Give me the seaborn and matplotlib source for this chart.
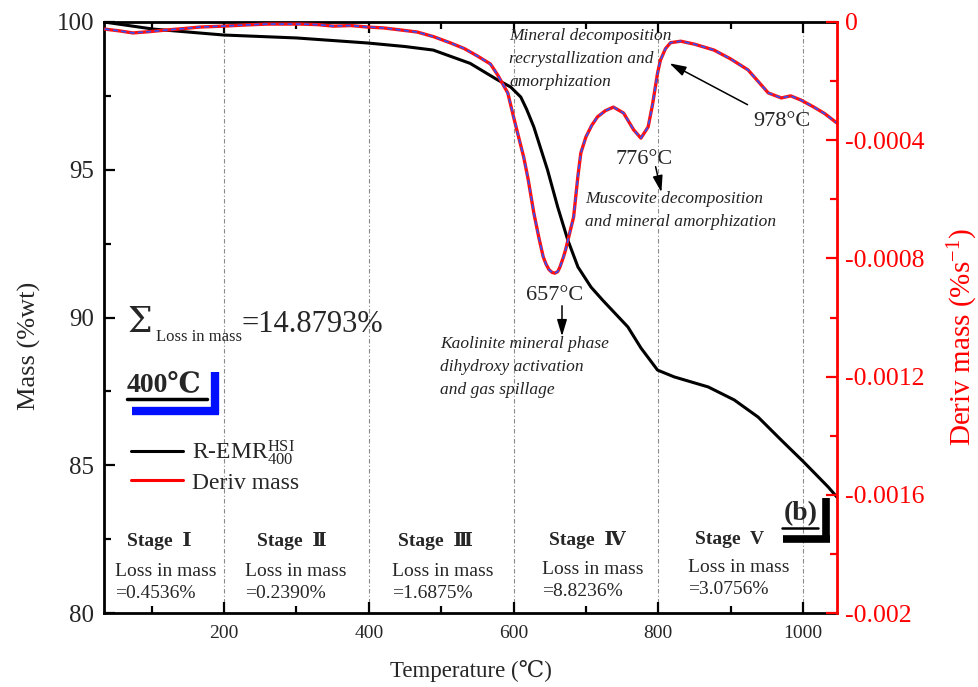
import matplotlib
matplotlib.use("Agg")
import matplotlib.pyplot as plt
import seaborn as sns
import pandas as pd
from matplotlib.lines import Line2D
from matplotlib.ticker import MultipleLocator, FixedLocator, FixedFormatter

# ---------------- data ----------------
tg_temp = [34, 102, 199, 300, 398, 450, 489, 540, 578, 596, 610, 618, 628, 647, 661,
           675, 689, 707, 723, 758, 776, 799, 822, 869, 905, 938, 970, 1001, 1035, 1047]
tg_mass = [100.0, 99.76, 99.56, 99.46, 99.29, 99.17, 99.05, 98.60, 98.04, 97.80,
           97.46, 97.05, 96.45, 94.99, 93.74, 92.62, 91.71, 91.03, 90.59, 89.68,
           88.97, 88.22, 87.99, 87.65, 87.21, 86.63, 85.85, 85.11, 84.26, 83.92]

dtg_temp = [35, 55, 74, 95, 121, 145, 167, 199, 230, 260, 305, 330, 351, 375, 398,
            420, 444, 467, 490, 513, 532, 550, 568, 578, 592, 600, 605, 614, 620,
            628, 635, 641, 645, 649, 653, 657, 661, 664, 669, 672, 676, 683, 686,
            689, 693, 700, 708, 716, 727, 738, 752, 766, 776, 786, 792, 799, 803,
            810, 817, 831, 850, 877, 900, 924, 952, 970, 983, 997, 1015, 1030, 1047]
dtg_vals = [-0.24e-4, -0.30e-4, -0.37e-4, -0.33e-4, -0.27e-4, -0.22e-4, -0.17e-4,
            -0.14e-4, -0.10e-4, -0.07e-4, -0.07e-4, -0.09e-4, -0.14e-4, -0.12e-4,
            -0.17e-4, -0.20e-4, -0.27e-4, -0.34e-4, -0.50e-4, -0.71e-4, -0.90e-4,
            -1.15e-4, -1.42e-4, -1.79e-4, -2.40e-4, -3.21e-4, -3.70e-4, -4.57e-4,
            -5.30e-4, -6.46e-4, -7.30e-4, -7.95e-4, -8.20e-4, -8.38e-4, -8.47e-4,
            -8.50e-4, -8.45e-4, -8.30e-4, -7.95e-4, -7.70e-4, -7.30e-4, -6.60e-4,
            -5.90e-4, -5.20e-4, -4.43e-4, -3.89e-4, -3.50e-4, -3.21e-4, -3.00e-4,
            -2.88e-4, -3.08e-4, -3.65e-4, -3.93e-4, -3.55e-4, -2.80e-4, -1.73e-4,
            -1.29e-4, -0.90e-4, -0.70e-4, -0.65e-4, -0.75e-4, -0.95e-4, -1.25e-4,
            -1.62e-4, -2.40e-4, -2.57e-4, -2.50e-4, -2.64e-4, -2.88e-4, -3.10e-4,
            -3.42e-4]

x_major = [200, 400, 600, 800, 1000]
y_left_ticks = [80, 85, 90, 95, 100]
y_right_ticks = [0, -0.0004, -0.0008, -0.0012, -0.0016, -0.002]
y_right_labels = ["0", "-0.0004", "-0.0008", "-0.0012", "-0.0016", "-0.002"]

stage_names = ["Stage  Ⅰ", "Stage  Ⅱ", "Stage  Ⅲ", "Stage  Ⅳ", "Stage  V"]
stage_losses = ["=0.4536%", "=0.2390%", "=1.6875%", "=8.8236%", "=3.0756%"]
peak_labels = ["657°C", "776°C", "978°C"]
total_loss = "=14.8793%"

tg_df = pd.DataFrame({"Temperature": tg_temp, "Mass": tg_mass})
dtg_df = pd.DataFrame({"Temperature": dtg_temp, "Deriv": dtg_vals})

# ---------------- style ----------------
sns.set_style("ticks")
plt.rcParams["font.family"] = ["Liberation Serif", "DejaVu Serif", "Noto Sans CJK SC",
                               "DejaVu Sans"]
plt.rcParams["mathtext.fontset"] = "custom"
plt.rcParams["mathtext.rm"] = "Liberation Serif"
plt.rcParams["mathtext.it"] = "Liberation Serif:italic"
plt.rcParams["mathtext.bf"] = "Liberation Serif:bold"
plt.rcParams["mathtext.default"] = "regular"
plt.rcParams["axes.unicode_minus"] = False

W, H = 979, 687
fig = plt.figure(figsize=(W / 100, H / 100), dpi=100)
L, R, T, B = 104, 837, 22, 613
ax1 = fig.add_axes([L / W, 1 - B / H, (R - L) / W, (B - T) / H])
ax2 = ax1.twinx()


def fp(x, y):
    return (x / W, 1 - y / H)


# curves
sns.lineplot(data=tg_df, x="Temperature", y="Mass", ax=ax1, color="black", lw=2.2)
sns.lineplot(data=dtg_df, x="Temperature", y="Deriv", ax=ax2, color="#ff1010", lw=2.4)
sns.lineplot(data=dtg_df, x="Temperature", y="Deriv", ax=ax2, color="#3050ff",
             lw=1.2, linestyle=(0, (3, 2)))

# axes limits / ticks
ax1.set_xlim(34, 1047)
ax1.set_ylim(80, 100)
ax2.set_ylim(-0.002, 0)

ax1.xaxis.set_major_locator(FixedLocator(x_major))
ax1.xaxis.set_minor_locator(MultipleLocator(100))
ax1.yaxis.set_major_locator(FixedLocator(y_left_ticks))
ax1.yaxis.set_minor_locator(MultipleLocator(2.5))
ax1.tick_params(axis="both", which="both", direction="in", top=True, right=False,
                width=1.6, color="black")
ax1.tick_params(which="major", length=8)
ax1.tick_params(which="minor", length=5)
ax1.tick_params(axis="x", labelsize=14, pad=9)
ax1.tick_params(axis="y", labelsize=18, pad=7)

ax2.yaxis.set_major_locator(FixedLocator(y_right_ticks))
ax2.yaxis.set_major_formatter(FixedFormatter(y_right_labels))
ax2.yaxis.set_minor_locator(MultipleLocator(0.0002))
ax2.tick_params(axis="y", which="both", direction="in", colors="red", width=1.6,
                labelsize=18.5, pad=6)
ax2.tick_params(axis="y", which="major", length=8)
ax2.tick_params(axis="y", which="minor", length=5)

for s in ["left", "bottom", "top"]:
    ax1.spines[s].set_linewidth(2)
    ax1.spines[s].set_color("black")
ax1.spines["right"].set_visible(False)
for s in ["left", "bottom", "top"]:
    ax2.spines[s].set_visible(False)
ax2.spines["right"].set_color("red")
ax2.spines["right"].set_linewidth(2)

ax1.grid(axis="x", which="major", color="#8a8a8a", lw=0.8, linestyle=(0, (4, 2, 1, 2)))
ax1.set_axisbelow(True)

ax1.set_xlabel("Temperature (℃)", fontsize=16.5)
ax1.xaxis.set_label_coords(0.5, (613 - 660) / 591)
ax1.set_ylabel("Mass (%wt)", fontsize=19)
ax1.yaxis.set_label_coords((41 - 104) / 733, (613 - 346) / 591)
ax2.set_ylabel("Deriv mass (%s$^{-1}$)", fontsize=21, color="red")
ax2.yaxis.set_label_coords((946 - 104) / 733, (613 - 337) / 591)

# legend
handles = [Line2D([0], [0], color="black", lw=2.2), Line2D([0], [0], color="red", lw=2.2)]
ax1.legend(handles, ["R-EMR$_{400}^{HSI}$", "Deriv mass"], loc="upper left",
           bbox_to_anchor=fp(122, 429), bbox_transform=fig.transFigure,
           frameon=False, fontsize=17, handlelength=2.2, handletextpad=0.35,
           labelspacing=0.2, borderaxespad=0)

# sum of loss
fig.text(*fp(128, 322), "Σ", fontsize=25, va="center", ha="left", family=["DejaVu Serif"])
fig.text(*fp(156, 337), "Loss in mass", fontsize=12, va="center", ha="left")
fig.text(*fp(242, 324), total_loss, fontsize=22, va="center", ha="left")

# 400℃ badge
fig.text(*fp(127, 385), "400℃", fontsize=20, fontweight="bold", va="center", ha="left")
fig.add_artist(Line2D([127 / W, 207 / W], [1 - 399 / H] * 2, color="black", lw=2.5))
fig.add_artist(Line2D([132 / W, 219 / W], [1 - 411 / H] * 2, color="#0010ff", lw=6,
                      solid_capstyle="butt"))
fig.add_artist(Line2D([215 / W] * 2, [1 - 372 / H, 1 - 414 / H], color="#0010ff", lw=6,
                      solid_capstyle="butt"))

# (b) badge
fig.text(*fp(784, 514), "(b)", fontsize=20, fontweight="bold", va="center", ha="left")
fig.add_artist(Line2D([782 / W, 818 / W], [1 - 528 / H] * 2, color="black", lw=1.8))
fig.add_artist(Line2D([783 / W, 830 / W], [1 - 539 / H] * 2, color="black", lw=5.5,
                      solid_capstyle="butt"))
fig.add_artist(Line2D([826 / W] * 2, [1 - 498 / H, 1 - 541 / H], color="black", lw=5.5,
                      solid_capstyle="butt"))

# stages
stage_title_x = [127, 257, 398, 549, 695]
stage_title_y = [541, 541, 541, 540, 540]
stage_loss_x = [115, 245, 392, 542, 688]
stage_loss_y = [571, 571, 571, 569, 567]
for i in range(5):
    fig.text(*fp(stage_title_x[i], stage_title_y[i]), stage_names[i], fontsize=14,
             fontweight="bold", va="center", ha="left")
    fig.text(*fp(stage_loss_x[i], stage_loss_y[i]), "Loss in mass", fontsize=14,
             va="center", ha="left")
    fig.text(*fp(stage_loss_x[i], stage_loss_y[i] + 23), stage_losses[i], fontsize=14,
             va="center", ha="left")

# peak annotations
fig.text(*fp(555, 296), peak_labels[0], fontsize=16, va="center", ha="center")
fig.text(*fp(644, 159), peak_labels[1], fontsize=16, va="center", ha="center")
fig.text(*fp(782, 121), peak_labels[2], fontsize=16, va="center", ha="center")

arrow_kw = dict(arrowstyle="-|>,head_length=1.0,head_width=0.3", color="black", lw=1.1)
ax1.annotate("", xy=(562 / W, 1 - 339 / H), xytext=(562 / W, 1 - 303 / H),
             xycoords="figure fraction", textcoords="figure fraction", arrowprops=arrow_kw)
ax1.annotate("", xy=(662 / W, 1 - 195 / H), xytext=(655 / W, 1 - 164 / H),
             xycoords="figure fraction", textcoords="figure fraction", arrowprops=arrow_kw)
ax1.annotate("", xy=(667 / W, 1 - 62 / H), xytext=(750 / W, 1 - 106 / H),
             xycoords="figure fraction", textcoords="figure fraction", arrowprops=arrow_kw)

it_kw = dict(fontsize=12.5, style="italic", va="top", ha="left", linespacing=1.6,
             color="#222222")
fig.text(*fp(509, 28), "Mineral decomposition\nrecrystallization and\namorphization", **it_kw)
fig.text(*fp(585, 191), "Muscovite decomposition\nand mineral amorphization", **it_kw)
fig.text(*fp(440, 336), "Kaolinite mineral phase\ndihydroxy activation\nand gas spillage", **it_kw)

fig.savefig("out.png", dpi=100)
